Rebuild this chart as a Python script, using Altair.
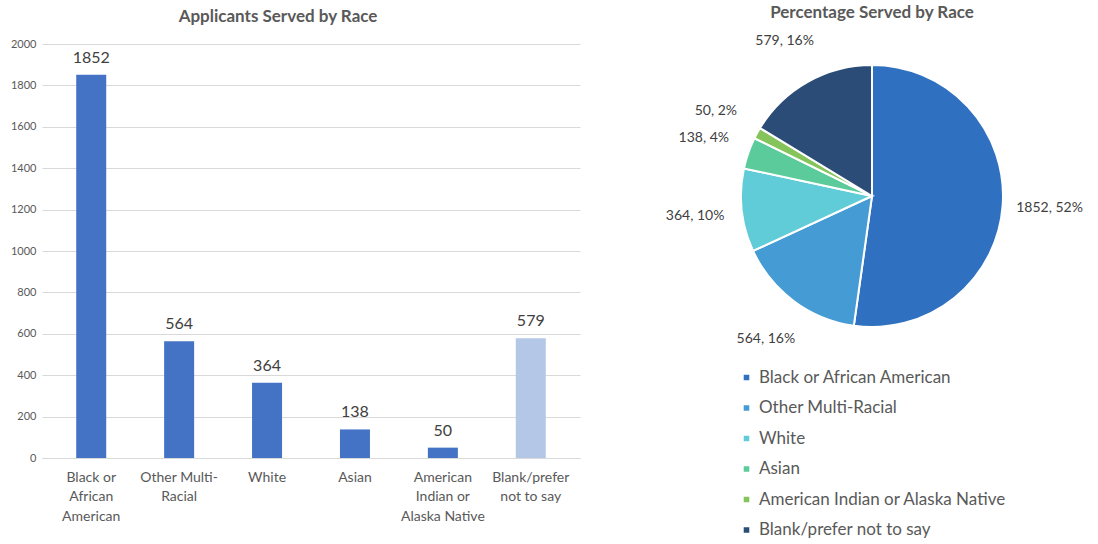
import altair as alt
import pandas as pd

categories = ["Black or African American", "Other Multi-Racial", "White", "Asian",
              "American Indian or Alaska Native", "Blank/prefer not to say"]
axis_lines = [["Black or", "African", "American"], ["Other Multi-", "Racial"], ["White"],
              ["Asian"], ["American", "Indian or", "Alaska Native"], ["Blank/prefer", "not to say"]]
counts = [1852, 564, 364, 138, 50, 579]
pcts = [52, 16, 10, 4, 2, 16]
bar_colors = ["#4472C4", "#4472C4", "#4472C4", "#4472C4", "#4472C4", "#B4C7E7"]
pie_colors = ["#3070C0", "#459BD3", "#5FCCD8", "#5BCB9C", "#84C45A", "#2B4C77"]

df = pd.DataFrame({
    "cat": categories,
    "count": counts,
    "idx": list(range(len(categories))),
    "label": [f"{c}, {p}%" for c, p in zip(counts, pcts)],
})

FONT = "Lato"
GRAY = "#595959"

label_expr = ""
for cat, lines in zip(categories, axis_lines):
    arr = "[" + ",".join(f"'{l}'" for l in lines) + "]"
    label_expr += f"datum.label == '{cat}' ? {arr} : "
label_expr += "datum.label"

xenc = alt.X("cat:N", sort=categories, title=None,
             scale=alt.Scale(paddingInner=0, paddingOuter=0.06),
             axis=alt.Axis(labelAngle=0, labelExpr=label_expr, labelFontSize=14,
                           labelColor=GRAY, labelPadding=12, labelLineHeight=19.5,
                           ticks=False, domainColor="#D9D9D9", labelFont=FONT,
                           labelLimit=200))

bars = alt.Chart(df).mark_bar(size=30).encode(
    x=xenc,
    y=alt.Y("count:Q", title=None, scale=alt.Scale(domain=[0, 2000]),
            axis=alt.Axis(values=list(range(0, 2001, 200)), format="d", labelFontSize=11,
                          labelColor=GRAY, domain=False, ticks=False, gridColor="#D9D9D9",
                          labelPadding=6, labelFont=FONT)),
    color=alt.Color("cat:N", scale=alt.Scale(domain=categories, range=bar_colors), legend=None),
)
bar_text = alt.Chart(df).mark_text(dy=-17, fontSize=16, color="#404040", font=FONT).encode(
    x=alt.X("cat:N", sort=categories),
    y="count:Q",
    text="count:Q",
)
bar_chart = (bars + bar_text).properties(
    width=538, height=414,
    title=alt.TitleParams("Applicants Served by Race", fontSize=17, fontWeight="bold",
                          color=GRAY, font=FONT, dx=-33, offset=12),
)

theta = alt.Theta("count:Q", stack=True)
order = alt.Order("idx:Q")
arcs = alt.Chart(df).mark_arc(outerRadius=131, stroke="white", strokeWidth=2).encode(
    theta=theta, order=order,
    color=alt.Color("cat:N", scale=alt.Scale(domain=categories, range=pie_colors),
                    title=None,
                    legend=alt.Legend(orient="none", legendX=66, legendY=325,
                                      symbolType="square", symbolSize=50,
                                      labelFontSize=17, labelColor=GRAY, labelFont=FONT,
                                      rowPadding=12.5, labelLimit=400, labelOffset=4)),
)
pie_text = alt.Chart(df).mark_text(radius=178, fontSize=14, color="#404040", font=FONT).encode(
    theta=theta, order=order, text="label:N",
)
pie_chart = (arcs + pie_text).properties(
    width=400, height=304,
    title=alt.TitleParams("Percentage Served by Race", fontSize=17, fontWeight="bold",
                          color=GRAY, font=FONT, offset=12),
)

chart = alt.hconcat(bar_chart, pie_chart, spacing=92, bounds="flush").resolve_scale(
    color="independent"
).properties(
    padding={"left": 10, "top": 3, "right": 5, "bottom": 5}
).configure_view(stroke=None)

chart.save("out.html", embed_options={"renderer": "svg", "actions": False})
